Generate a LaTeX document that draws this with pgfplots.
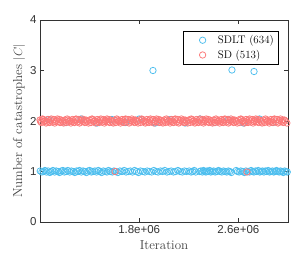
\documentclass[border=0pt]{standalone}
\usepackage{pgfplots}
\pgfplotsset{compat=1.18}
\usepackage{fontspec}
\newfontfamily\tickfont{Liberation Sans}
\definecolor{sdlt}{RGB}{77,190,238}
\definecolor{sd}{RGB}{252,120,120}
\begin{document}
\begin{tikzpicture}
\begin{axis}[
  scale only axis, width=248pt, height=202pt,
  at={(0,0)}, anchor=south west,
  xmin=1.0, xmax=3.0, ymin=0, ymax=4,
  xtick={1.8,2.6}, xticklabels={1.8e+06,2.6e+06},
  ytick={0,1,2,3,4}, yticklabels={0,1,2,3,4},
  tick align=inside, major tick length=4pt,
  /pgf/number format/assume math mode=true,
  tick label style={font=\tickfont\fontsize{11.5}{13}\selectfont, text=black!80},
  xlabel={Iteration}, ylabel={Number of catastrophes $|C|$},
  label style={font=\fontsize{13}{15}\selectfont, text=black!75},
  ylabel style={yshift=-2pt},
  axis line style={black!80, line width=0.5pt},
  every tick/.style={black!80, line width=0.5pt},
  clip=false,
  legend style={at={(0.96,0.945)}, anchor=north east, draw=black, line width=0.5pt,
    font=\fontsize{11}{13}\selectfont, inner sep=2pt, row sep=1pt},
  legend cell align=left,
  legend image code/.code={\path (0pt,0pt) (30pt,0pt); \draw[#1] plot coordinates {(17pt,0pt)};},
]
\addplot[only marks, mark=o, mark size=3.2pt, color=sdlt, mark options={line width=0.75pt}] coordinates {
(1.002,1.01)(1.015,0.99)(1.028,1.00)(1.040,1.02)(1.051,0.99)(1.066,1.01)(1.079,0.98)(1.090,1.00)
(1.104,1.02)(1.118,0.99)(1.131,1.01)(1.146,1.00)(1.158,0.98)(1.172,1.01)(1.185,1.02)(1.196,0.99)
(1.211,1.00)(1.224,1.02)(1.240,0.99)(1.253,1.01)(1.268,1.00)(1.281,0.98)(1.294,1.01)
(1.306,1.00)(1.318,1.02)(1.333,0.99)(1.347,1.01)(1.359,1.00)(1.374,0.98)(1.388,1.01)
(1.401,1.02)(1.414,0.99)(1.427,1.00)(1.442,1.01)(1.455,0.99)(1.470,1.02)(1.484,1.00)(1.497,0.98)
(1.511,1.01)(1.526,1.00)(1.540,0.99)(1.553,1.02)(1.568,1.00)(1.583,0.99)(1.596,1.01)
(1.612,1.00)(1.628,0.98)(1.645,1.01)(1.661,1.00)(1.679,1.02)(1.694,0.99)
(1.712,1.00)(1.728,1.01)(1.746,0.99)(1.763,1.02)(1.779,1.00)(1.795,0.98)
(1.811,1.01)(1.829,1.00)(1.846,0.99)(1.864,1.01)(1.883,1.00)
(1.901,0.99)(1.918,1.02)(1.936,1.00)(1.952,0.99)(1.971,1.01)(1.988,1.00)
(2.006,1.02)(2.024,0.99)(2.041,1.00)(2.058,1.01)(2.077,0.99)(2.093,1.00)
(2.112,1.02)(2.129,1.00)(2.148,0.99)(2.165,1.01)(2.182,1.00)
(2.203,1.01)(2.218,0.99)(2.231,1.00)(2.244,1.02)(2.256,0.99)(2.288,1.00)(2.297,1.01)
(2.309,0.99)(2.318,1.02)(2.326,1.00)(2.338,0.99)(2.347,1.01)(2.356,1.00)(2.368,1.02)(2.377,0.99)(2.389,1.00)
(2.401,1.01)(2.413,0.99)(2.426,1.00)(2.440,1.02)(2.452,1.00)(2.466,0.99)(2.479,1.01)(2.493,1.00)
(2.506,0.99)(2.519,1.01)(2.531,1.00)(2.543,0.98)(2.582,1.02)(2.593,1.00)
(2.606,0.99)(2.619,1.01)(2.633,1.00)(2.648,0.98)(2.661,1.01)(2.676,1.00)(2.689,0.99)
(2.702,1.02)(2.714,1.00)(2.725,0.99)(2.737,1.01)(2.749,1.00)(2.760,1.02)(2.772,0.99)(2.784,1.00)(2.795,1.01)
(2.806,0.99)(2.817,1.01)(2.829,1.00)(2.840,1.02)(2.851,0.99)(2.862,1.00)(2.874,1.01)(2.885,0.99)(2.896,1.00)
(2.907,1.02)(2.918,1.00)(2.929,0.99)(2.940,1.01)(2.951,1.00)(2.962,0.98)(2.973,1.01)(2.984,1.00)(2.994,0.99)
(1.07,2.03)(1.21,1.97)(1.33,2.04)(1.46,1.96)(1.58,2.03)(1.69,1.97)(1.80,2.04)(1.93,1.96)
(2.05,2.03)(2.17,1.96)(2.29,2.04)(2.41,1.97)(2.52,2.03)(2.64,1.96)(2.77,2.04)(2.88,1.97)
(1.911,3.00)(2.548,3.01)(2.726,2.98)
};
\addlegendentry{SDLT (634)}
\addplot[only marks, mark=o, mark size=3.2pt, color=sd, mark options={line width=0.75pt}] coordinates {
(1.000,2.02)(1.011,1.97)(1.019,2.04)(1.032,1.99)(1.040,2.01)(1.049,1.96)(1.061,2.03)(1.070,2.00)(1.078,1.97)(1.091,2.04)
(1.100,1.98)(1.111,2.03)(1.119,1.96)(1.132,2.01)(1.140,2.04)(1.149,1.99)(1.161,1.97)(1.170,2.02)(1.178,2.00)(1.191,1.96)
(1.200,2.02)(1.211,1.97)(1.219,2.04)(1.232,1.99)(1.240,2.01)(1.249,1.96)(1.261,2.03)(1.270,2.00)(1.278,1.97)(1.291,2.04)
(1.300,1.98)(1.311,2.03)(1.319,1.96)(1.332,2.01)(1.340,2.04)(1.349,1.99)(1.361,1.97)(1.370,2.02)(1.378,2.00)(1.391,1.96)
(1.400,2.02)(1.411,1.97)(1.419,2.04)(1.432,1.99)(1.440,2.01)(1.449,1.96)(1.461,2.03)(1.470,2.00)(1.478,1.97)(1.491,2.04)
(1.500,1.98)(1.511,2.03)(1.519,1.96)(1.532,2.01)(1.540,2.04)(1.549,1.99)(1.561,1.97)(1.570,2.02)(1.578,2.00)(1.591,1.96)
(1.600,2.02)(1.611,1.97)(1.619,2.04)(1.632,1.99)(1.640,2.01)(1.649,1.96)(1.661,2.03)(1.670,2.00)(1.678,1.97)(1.691,2.04)
(1.700,1.98)(1.711,2.03)(1.719,1.96)(1.732,2.01)(1.740,2.04)(1.749,1.99)(1.761,1.97)(1.770,2.02)(1.778,2.00)(1.791,1.96)
(1.800,2.02)(1.811,1.97)(1.819,2.04)(1.832,1.99)(1.840,2.01)(1.849,1.96)(1.861,2.03)(1.870,2.00)(1.878,1.97)(1.891,2.04)
(1.900,1.98)(1.911,2.03)(1.919,1.96)(1.932,2.01)(1.940,2.04)(1.949,1.99)(1.961,1.97)(1.970,2.02)(1.978,2.00)(1.991,1.96)
(2.000,2.02)(2.011,1.97)(2.019,2.04)(2.032,1.99)(2.040,2.01)(2.049,1.96)(2.061,2.03)(2.070,2.00)(2.078,1.97)(2.091,2.04)
(2.100,1.98)(2.111,2.03)(2.119,1.96)(2.132,2.01)(2.140,2.04)(2.149,1.99)(2.161,1.97)(2.170,2.02)(2.178,2.00)(2.191,1.96)
(2.200,2.02)(2.211,1.97)(2.219,2.04)(2.232,1.99)(2.240,2.01)(2.249,1.96)(2.261,2.03)(2.270,2.00)(2.278,1.97)(2.291,2.04)
(2.300,1.98)(2.311,2.03)(2.319,1.96)(2.332,2.01)(2.340,2.04)(2.349,1.99)(2.361,1.97)(2.370,2.02)(2.378,2.00)(2.391,1.96)
(2.400,2.02)(2.411,1.97)(2.419,2.04)(2.432,1.99)(2.440,2.01)(2.449,1.96)(2.461,2.03)(2.470,2.00)(2.478,1.97)(2.491,2.04)
(2.500,1.98)(2.511,2.03)(2.519,1.96)(2.532,2.01)(2.540,2.04)(2.549,1.99)(2.561,1.97)(2.570,2.02)(2.578,2.00)(2.591,1.96)
(2.600,2.02)(2.611,1.97)(2.619,2.04)(2.632,1.99)(2.640,2.01)(2.649,1.96)(2.661,2.03)(2.670,2.00)(2.678,1.97)(2.691,2.04)
(2.700,1.98)(2.711,2.03)(2.719,1.96)(2.732,2.01)(2.740,2.04)(2.749,1.99)(2.761,1.97)(2.770,2.02)(2.778,2.00)(2.791,1.96)
(2.800,2.02)(2.811,1.97)(2.819,2.04)(2.832,1.99)(2.840,2.01)(2.849,1.96)(2.861,2.03)(2.870,2.00)(2.878,1.97)(2.891,2.04)
(2.900,1.98)(2.911,2.03)(2.919,1.96)(2.932,2.01)(2.940,2.04)(2.949,1.99)(2.961,1.97)(2.970,2.02)(2.978,2.00)(2.991,1.96)
(1.005,1.99)(1.025,2.03)(1.055,1.98)(1.085,2.02)(1.125,1.99)(1.155,2.03)(1.185,1.98)(1.225,2.02)(1.255,1.99)(1.285,2.03)
(1.325,1.98)(1.355,2.02)(1.385,1.99)(1.425,2.03)(1.455,1.98)(1.485,2.02)(1.525,1.99)(1.555,2.03)(1.585,1.98)(1.625,2.02)
(1.655,1.99)(1.685,2.03)(1.725,1.98)(1.755,2.02)(1.785,1.99)(1.825,2.03)(1.855,1.98)(1.885,2.02)(1.925,1.99)(1.955,2.03)
(1.985,1.98)(2.025,2.02)(2.055,1.99)(2.085,2.03)(2.125,1.98)(2.155,2.02)(2.185,1.99)(2.225,2.03)(2.255,1.98)(2.285,2.02)
(2.325,1.99)(2.355,2.03)(2.385,1.98)(2.425,2.02)(2.455,1.99)(2.485,2.03)(2.525,1.98)(2.555,2.02)(2.585,1.99)(2.625,2.03)
(2.655,1.98)(2.685,2.02)(2.725,1.99)(2.755,2.03)(2.785,1.98)(2.825,2.02)(2.855,1.99)(2.885,2.03)(2.925,1.98)(2.955,2.02)
(1.605,1.00)(2.669,0.99)
};
\addlegendentry{SD (513)}
\end{axis}
\path[use as bounding box] (-40pt,-35pt) rectangle (259pt,222pt);
\end{tikzpicture}
\end{document}
